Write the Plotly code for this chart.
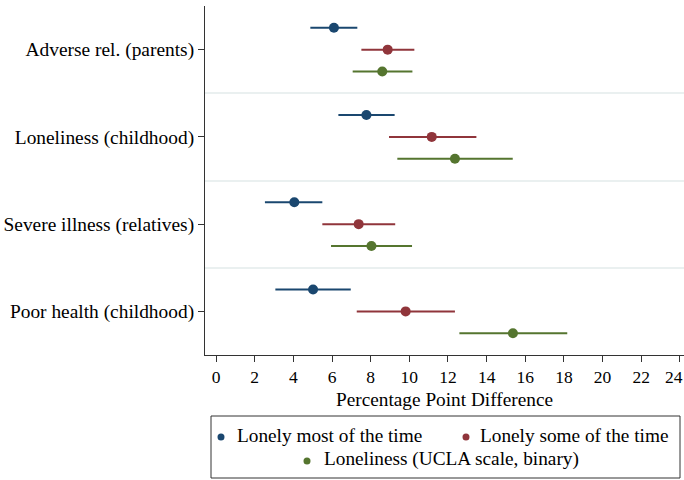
import plotly.graph_objects as go

# Categories (top to bottom)
categories = ["Adverse rel. (parents)", "Loneliness (childhood)",
              "Severe illness (relatives)", "Poor health (childhood)"]
cat_pos = [3, 2, 1, 0]

series_names = ["Lonely most of the time", "Lonely some of the time",
                "Loneliness (UCLA scale, binary)"]

# Point estimates and 95% CI bounds, order follows `categories`
most_est = [6.10, 7.78, 4.05, 5.02]
most_lo = [4.88, 6.33, 2.53, 3.07]
most_hi = [7.31, 9.24, 5.50, 6.97]

some_est = [8.88, 11.16, 7.38, 9.81]
some_lo = [7.52, 8.95, 5.50, 7.28]
some_hi = [10.26, 13.47, 9.27, 12.36]

ucla_est = [8.60, 12.36, 8.04, 15.36]
ucla_lo = [7.07, 9.38, 5.95, 12.59]
ucla_hi = [10.16, 15.35, 10.14, 18.17]

x_ticks = list(range(0, 25, 2))
x_ticklabels = [str(v) for v in x_ticks]

colors = ["#1a476f", "#90353b", "#55752f"]
offsets = [0.25, 0.0, -0.25]
FONT = "Liberation Serif, Times New Roman, serif"
TICK_SIZE = 17.5

fig = go.Figure()
for name, est, lo, hi, col, off in zip(
        series_names,
        [most_est, some_est, ucla_est],
        [most_lo, some_lo, ucla_lo],
        [most_hi, some_hi, ucla_hi],
        colors, offsets):
    fig.add_trace(go.Scatter(
        x=est,
        y=[p + off for p in cat_pos],
        mode="markers",
        name=name,
        showlegend=False,
        marker=dict(color=col, size=10),
        error_x=dict(type="data", symmetric=False,
                     array=[h - e for h, e in zip(hi, est)],
                     arrayminus=[e - l for e, l in zip(est, lo)],
                     color=col, thickness=2, width=0),
    ))

fig.update_layout(
    width=684, height=480,
    margin=dict(l=205, r=0, t=6, b=125),
    paper_bgcolor="white", plot_bgcolor="white",
    font=dict(family=FONT, color="black", size=19),
    showlegend=False,
)

# last tick label is drawn separately, nudged left to stay inside the page
shown_ticktext = x_ticklabels[:-1] + [""]

fig.update_xaxes(
    range=[-0.57, 24.21],
    tickvals=x_ticks, ticktext=shown_ticktext,
    ticks="outside", ticklen=6, tickcolor="#333", tickwidth=1,
    tickfont=dict(size=TICK_SIZE, family=FONT),
    automargin=False,
    showline=True, linecolor="#333", linewidth=1,
    showgrid=False, zeroline=False,
    title=dict(text="Percentage Point Difference", font=dict(size=19.3, family=FONT), standoff=6),
)
fig.add_annotation(text=x_ticklabels[-1], xref="x", yref="paper",
                   x=x_ticks[-1], y=0, xanchor="center", yanchor="top",
                   xshift=-6, yshift=-10, showarrow=False,
                   font=dict(size=TICK_SIZE, family=FONT, color="black"))

fig.update_yaxes(
    range=[-0.5, 3.5],
    tickvals=cat_pos, ticktext=categories,
    ticks="outside", ticklen=6, tickcolor="#333", tickwidth=1,
    tickfont=dict(size=19.4, family=FONT),
    automargin=False,
    showline=True, linecolor="#333", linewidth=1,
    showgrid=False, zeroline=False,
    minor=dict(tickvals=[0.5, 1.5, 2.5], showgrid=True, gridcolor="#eaf0f0",
               gridwidth=1.5, ticklen=0),
)

# Legend box (drawn manually to reproduce centered two-row layout)
def px_x(px):
    return (px - 205) / 479.0

def px_y(py):
    return (355 - py) / 349.0

fig.add_shape(type="rect", xref="paper", yref="paper",
              x0=px_x(211), x1=px_x(680), y0=px_y(416), y1=px_y(478),
              line=dict(color="#333", width=1), fillcolor="white")

legend_items = [
    (series_names[0], colors[0], 221, 235, 437),
    (series_names[1], colors[1], 466, 478, 437),
    (series_names[2], colors[2], 307, 322, 461),
]
for text, col, dot_x, text_x, row_y in legend_items:
    fig.add_shape(type="circle", xref="paper", yref="paper",
                  xsizemode="pixel", ysizemode="pixel",
                  xanchor=px_x(dot_x), yanchor=px_y(row_y),
                  x0=-3.5, x1=3.5, y0=-3.5, y1=3.5,
                  fillcolor=col, line=dict(width=0))
    fig.add_annotation(text=text, xref="paper", yref="paper",
                       x=px_x(text_x), y=px_y(row_y - 2),
                       xanchor="left", yanchor="middle", showarrow=False,
                       font=dict(size=19.3, family=FONT, color="black"))

fig.write_html("out.html")
